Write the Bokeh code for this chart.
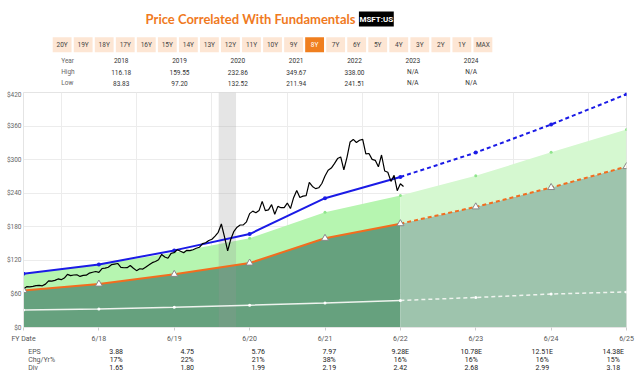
from bokeh.plotting import figure
from bokeh.layouts import column
from bokeh.models import Range1d, FixedTicker, NumeralTickFormatter
from bokeh.core.properties import value
from bokeh.embed import file_html
from bokeh.resources import INLINE

# ---------------- data ----------------
fy_x = [2017.5, 2018.5, 2019.5, 2020.5, 2021.5, 2022.5, 2023.5, 2024.5, 2025.5]
fy_labels = ["FY Date", "6/18", "6/19", "6/20", "6/21", "6/22", "6/23", "6/24", "6/25"]
eps_text = ["3.88", "4.75", "5.76", "7.97", "9.28E", "10.78E", "12.51E", "14.38E"]
chg_text = ["17%", "22%", "21%", "38%", "16%", "16%", "16%", "15%"]
div_text = ["1.65", "1.80", "1.99", "2.19", "2.42", "2.68", "2.99", "3.18"]

fair_value = [66.2, 77.6, 95.0, 115.2, 159.4, 185.6, 215.6, 250.2, 287.6]
normal_pe = [96.0, 112.5, 137.8, 167.0, 231.1, 269.1, 312.6, 362.8, 417.0]
green_top = [96.0, 112.5, 134.0, 159.5, 206.0, 236.0, 271.0, 313.0, 354.0]
div_line = [31.2, 33.0, 36.0, 39.8, 43.8, 48.4, 53.6, 59.8, 63.6]
hist_n = 6  # points up to 6/22 are history, rest are estimates

price_start = 2017.5
price_step = 1 / 24
price = [
    68.9, 73.0, 72.7, 73.6, 74.8, 75.3, 74.5, 77.5, 83.2, 83.0, 84.2, 86.8, 85.5,
    88.4, 95.0, 92.7, 93.8, 94.2, 91.3, 93.1, 93.5, 97.2, 98.8, 100.1, 98.6,
    105.4, 106.1, 107.7, 112.3, 113.4, 114.4, 107.6, 106.8, 106.9, 110.9, 106.0, 101.6,
    105.0, 104.4, 108.2, 112.0, 115.9, 118.0, 121.0, 130.6, 126.0, 123.7, 132.5, 134.0,
    138.9, 136.3, 133.7, 137.9, 137.3, 139.0, 141.6, 143.4, 150.0, 151.4, 155.5, 157.7,
    163.2, 170.2, 185.0, 162.0, 137.0, 157.7, 171.9, 179.2, 183.2, 183.3, 188.9, 203.5,
    208.0, 205.0, 208.9, 225.5, 208.8, 210.3, 219.7, 202.5, 216.5, 214.1, 214.1, 222.4,
    212.6, 232.0, 245.0, 232.4, 234.8, 235.8, 259.5, 252.2, 248.2, 249.7, 257.4, 270.9,
    281.0, 284.9, 292.9, 301.9, 304.8, 281.9, 304.2, 331.6, 336.1, 330.6, 334.7, 336.3,
    310.2, 311.0, 300.5, 298.8, 287.2, 308.3, 279.8, 277.5, 261.1, 271.9, 244.5, 256.8, 252.0,
]
recession_start, recession_end = 2020.09, 2020.32

years = ["2018", "2019", "2020", "2021", "2022", "2023", "2024"]
highs = ["116.18", "159.55", "232.86", "349.67", "338.00", "N/A", "N/A"]
lows = ["83.83", "97.20", "132.52", "211.94", "241.51", "N/A", "N/A"]
buttons = ["20Y", "19Y", "18Y", "17Y", "16Y", "15Y", "14Y", "13Y", "12Y", "11Y", "10Y",
           "9Y", "8Y", "7Y", "6Y", "5Y", "4Y", "3Y", "2Y", "1Y", "MAX"]
selected = "8Y"
y_ticks = [0, 60, 120, 180, 240, 300, 360, 420]
grid_years = [2018, 2019, 2020, 2021, 2022, 2023, 2024, 2025]

# ---------------- layout constants ----------------
W = 640
HEAD_H, MAIN_H, FOOT_H = 90, 255, 28
BORDER_L, BORDER_R = 23, 14
X0, X1 = 2017.5, 2025.5
PPY = (W - BORDER_L - BORDER_R) / (X1 - X0)   # pixels per year in main frame

FONT = value("Roboto")


def bare_fig(h, x_range, y_range):
    f = figure(width=W, height=h, x_range=x_range, y_range=y_range,
               x_axis_type=None, y_axis_type=None, output_backend="svg",
               toolbar_location=None, min_border=0)
    f.outline_line_color = None
    f.xgrid.visible = False
    f.ygrid.visible = False
    return f


# ---------------- header ----------------
hd = bare_fig(HEAD_H, Range1d(0, W), Range1d(HEAD_H, 0))
hd.text(x=[241], y=[18], text=["Price Correlated With Fundamentals"],
        text_font=value("Lato"), text_font_style="bold",
        text_font_size=value("13px"), text_color="#f07a1e",
        text_align="center", text_baseline="middle")
hd.rect(x=[374.5], y=[18.5], width=37, height=15, fill_color="black", line_color=None)
hd.text(x=[374.5], y=[18.8], text=["MSFT:US"], text_font=FONT,
        text_font_style="bold", text_font_size=value("8px"), text_color="white",
        text_align="center", text_baseline="middle")

bx = [41 + 22.33 * i for i in range(len(buttons))]
bfill = ["#f07f1f" if b == selected else "#fde6d4" for b in buttons]
bcol = ["white" if b == selected else "#444444" for b in buttons]
hd.rect(x=bx, y=[44.2] * len(buttons), width=20, height=15, fill_color=bfill, line_color=None)
hd.text(x=bx, y=[44.5] * len(buttons), text=buttons, text_color=bcol, text_font=FONT,
        text_font_size=value("6.5px"), text_align="center", text_baseline="middle")

col_x = [103.7 + 61.9 * i for i in range(len(years))]
for Y, name, vals in [(60.3, "Year", years), (71.7, "High", highs), (82.5, "Low", lows)]:
    hd.text(x=[40], y=[Y], text=[name], text_color="#666666", text_font=FONT,
            text_font_size=value("6.5px"), text_align="left", text_baseline="middle")
    hd.text(x=col_x, y=[Y] * len(vals), text=vals, text_color="#333333", text_font=FONT,
            text_font_size=value("6.5px"), text_align="center", text_baseline="middle")

# ---------------- main chart ----------------
p = figure(width=W, height=MAIN_H, x_range=Range1d(X0, X1), y_range=Range1d(0, 420),
           output_backend="svg", toolbar_location=None,
           min_border_left=BORDER_L, min_border_right=BORDER_R,
           min_border_top=2, min_border_bottom=17)
p.outline_line_color = "#e4e4e4"

p.yaxis.ticker = FixedTicker(ticks=y_ticks)
p.yaxis.formatter = NumeralTickFormatter(format="$0")
p.yaxis.major_tick_in = 0
p.yaxis.major_tick_out = 0
p.yaxis.minor_tick_in = 0
p.yaxis.minor_tick_out = 0
p.yaxis.axis_line_color = "#e4e4e4"
p.yaxis.major_label_text_font = "Roboto"
p.yaxis.major_label_text_font_size = "6.5px"
p.yaxis.major_label_text_color = "#666666"
p.yaxis.major_label_standoff = 2

p.xaxis.ticker = FixedTicker(ticks=fy_x)
p.xaxis.major_label_overrides = {x: l for x, l in zip(fy_x, fy_labels)}
p.xaxis.minor_tick_in = 0
p.xaxis.minor_tick_out = 0
p.xaxis.major_tick_in = 0
p.xaxis.major_tick_out = 3
p.xaxis.major_tick_line_color = "#cccccc"
p.xaxis.axis_line_color = "#e4e4e4"
p.xaxis.major_label_text_font = "Roboto"
p.xaxis.major_label_text_font_size = "7px"
p.xaxis.major_label_text_color = "#555555"
p.xaxis.major_label_standoff = 4

p.xgrid.ticker = FixedTicker(ticks=grid_years)
p.xgrid.grid_line_color = "#ececec"
p.ygrid.grid_line_color = "#ececec"

h = slice(0, hist_n)
f = slice(hist_n - 1, None)

p.varea(x=fy_x[h], y1=0, y2=fair_value[h], fill_color="#66a17e")
p.varea(x=fy_x[h], y1=fair_value[h], y2=green_top[h], fill_color="#b6f5b0")
p.varea(x=fy_x[f], y1=0, y2=fair_value[f], fill_color="#9ec4ad")
p.varea(x=fy_x[f], y1=fair_value[f], y2=green_top[f], fill_color="#d5f8d0")

p.quad(left=[recession_start], right=[recession_end], bottom=[0], top=[420],
       fill_color="#999999", fill_alpha=0.25, line_color=None)

p.line(fy_x[h], div_line[h], line_color="#eef3ee", line_width=1.5)
p.line(fy_x[f], div_line[f], line_color="#eef3ee", line_width=1.5, line_dash="4 3")
p.scatter(fy_x, div_line, size=3, fill_color="white", line_color=None)

p.scatter(fy_x, green_top, size=3, fill_color="#8fe58c", line_color=None)

p.line(fy_x[h], fair_value[h], line_color="#f26d1f", line_width=2)
p.line(fy_x[f], fair_value[f], line_color="#f26d1f", line_width=2, line_dash="4 3")

p.line(fy_x[h], normal_pe[h], line_color="#1b1be6", line_width=2)
p.line(fy_x[f], normal_pe[f], line_color="#1b1be6", line_width=2, line_dash="4 3")
p.scatter(fy_x, normal_pe, size=4, fill_color="#1b1be6", line_color=None)

px = [price_start + i * price_step for i in range(len(price))]
p.line(px, price, line_color="black", line_width=1.2)

p.scatter(fy_x, fair_value, marker="triangle", size=7, fill_color="white", line_color="#888888")

# ---------------- footer rows (same x scale as main frame) ----------------
ft = bare_fig(FOOT_H, Range1d(X0 - BORDER_L / PPY, X1 + BORDER_R / PPY), Range1d(FOOT_H, 0))
for Y, name, vals in [(6, "EPS", eps_text), (14, "Chg/Yr%", chg_text), (22, "Div", div_text)]:
    ft.text(x=[X0 - 18 / PPY], y=[Y], text=[name], text_color="#555555", text_font=FONT,
            text_font_size=value("7px"), text_align="left", text_baseline="middle")
    ft.text(x=fy_x[1:], y=[Y] * len(vals), text=vals, text_color="#222222", text_font=FONT,
            text_font_size=value("7px"), text_align="center", text_baseline="middle")

layout = column(hd, p, ft, spacing=0)
open("out.html", "w").write(file_html(layout, INLINE))
